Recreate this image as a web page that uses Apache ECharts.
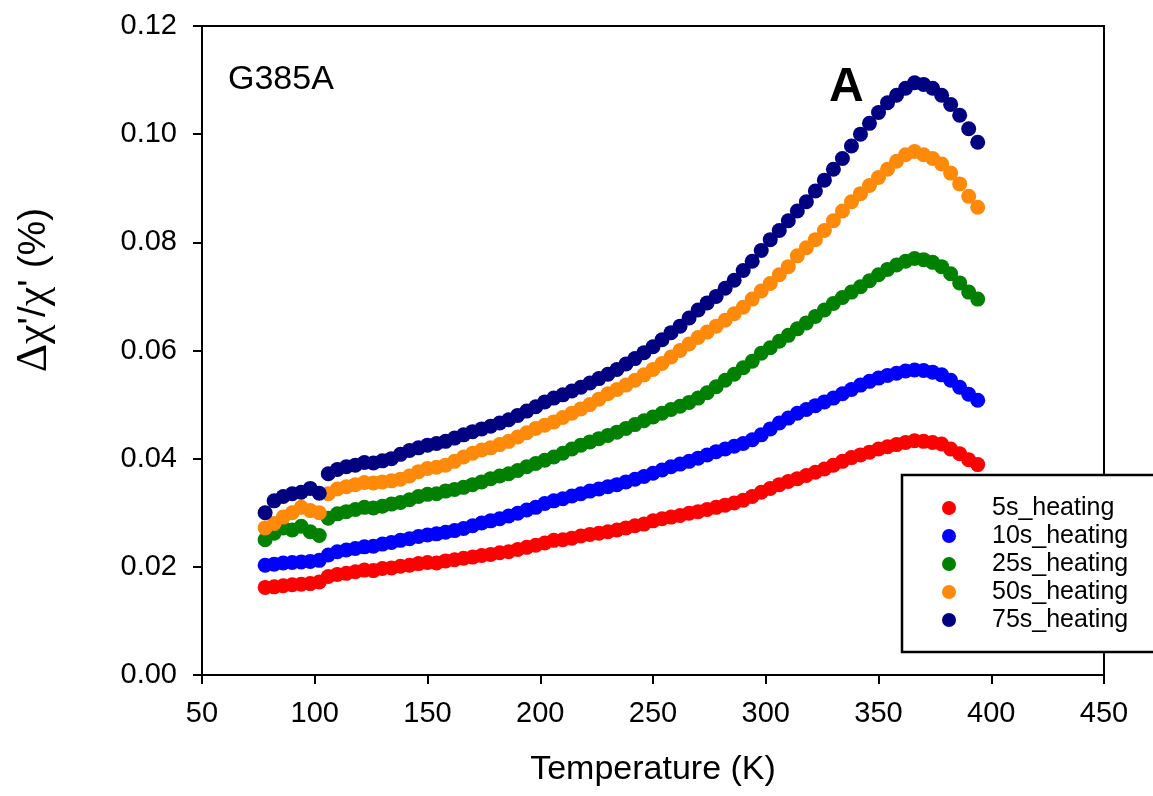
<!DOCTYPE html>
<html>
<head>
<meta charset="utf-8">
<script src="https://cdn.jsdelivr.net/npm/echarts@6/dist/echarts.min.js"></script>
<style>html,body{margin:0;padding:0;background:#fff}#c{width:1153px;height:796px}</style>
</head>
<body>
<div id="c"></div>
<script>
const temps = [78,82,86,90,94,98,102,106,110,114,
  118,122,126,130,134,138,142,146,150,154,
  158,162,166,170,174,178,182,186,190,194,
  198,202,206,210,214,218,222,226,230,234,
  238,242,246,250,254,258,262,266,270,274,
  278,282,286,290,294,298,302,306,310,314,
  318,322,326,330,334,338,342,346,350,354,
  358,362,366,370,374,378,382,386,390,394];

const s5 = [.0162,.0163,.0165,.0167,.0168,.0169,.0172,.0182,.0186,.0188,
  .0191,.0194,.0193,.0197,.0198,.0201,.0203,.0206,.0208,.0207,
  .0211,.0213,.0216,.0218,.0221,.0223,.0226,.0228,.0232,.0236,
  .0240,.0244,.0249,.0250,.0253,.0257,.0260,.0262,.0265,.0268,
  .0272,.0276,.0279,.0285,.0289,.0292,.0295,.0299,.0302,.0306,
  .0310,.0314,.0318,.0323,.0330,.0338,.0345,.0352,.0358,.0363,
  .0369,.0375,.0381,.0388,.0395,.0402,.0407,.0412,.0418,.0422,
  .0426,.0430,.0433,.0432,.0430,.0427,.0418,.0409,.0398,.0389];

const s10 = [.0203,.0205,.0207,.0208,.0209,.0210,.0212,.0222,.0228,.0231,
  .0234,.0237,.0238,.0242,.0245,.0249,.0252,.0256,.0259,.0261,
  .0264,.0267,.0271,.0276,.0281,.0285,.0289,.0294,.0299,.0305,
  .0310,.0317,.0322,.0326,.0331,.0335,.0340,.0344,.0348,.0352,
  .0357,.0362,.0367,.0373,.0379,.0385,.0390,.0395,.0401,.0407,
  .0413,.0418,.0423,.0428,.0435,.0444,.0455,.0466,.0475,.0484,
  .0491,.0498,.0505,.0512,.0520,.0528,.0536,.0543,.0549,.0554,
  .0558,.0562,.0564,.0563,.0560,.0555,.0545,.0532,.0519,.0508];

const s25 = [.0250,.0262,.0272,.0268,.0275,.0265,.0258,.0290,.0298,.0302,
  .0306,.0310,.0309,.0312,.0316,.0319,.0324,.0330,.0334,.0335,
  .0340,.0343,.0347,.0352,.0357,.0363,.0368,.0372,.0378,.0385,
  .0391,.0397,.0403,.0410,.0418,.0425,.0431,.0437,.0443,.0449,
  .0456,.0463,.0470,.0477,.0484,.0491,.0497,.0504,.0512,.0522,
  .0533,.0545,.0556,.0568,.0580,.0595,.0605,.0617,.0628,.0640,
  .0651,.0663,.0675,.0687,.0698,.0708,.0718,.0729,.0740,.0750,
  .0758,.0765,.0770,.0768,.0763,.0755,.0742,.0725,.0708,.0695];

const s50 = [.0272,.0280,.0292,.0300,.0310,.0304,.0300,.0335,.0344,.0348,
  .0352,.0356,.0355,.0357,.0359,.0362,.0368,.0376,.0382,.0384,
  .0388,.0395,.0403,.0410,.0416,.0420,.0426,.0432,.0440,.0448,
  .0456,.0462,.0468,.0476,.0484,.0492,.0500,.0510,.0520,.0528,
  .0536,.0545,.0555,.0565,.0576,.0588,.0600,.0612,.0624,.0634,
  .0645,.0656,.0668,.0680,.0695,.0710,.0724,.0740,.0755,.0775,
  .0790,.0805,.0822,.0840,.0858,.0875,.0890,.0905,.0920,.0935,
  .0950,.0962,.0968,.0962,.0955,.0945,.0928,.0908,.0885,.0865];

const s75 = [.0300,.0322,.0330,.0335,.0338,.0345,.0336,.0372,.0380,.0385,
  .0388,.0393,.0392,.0396,.0400,.0408,.0415,.0420,.0425,.0428,
  .0432,.0438,.0444,.0450,.0455,.0460,.0466,.0472,.0480,.0488,
  .0496,.0505,.0512,.0518,.0525,.0532,.0540,.0548,.0556,.0565,
  .0575,.0585,.0596,.0607,.0620,.0633,.0645,.0660,.0675,.0688,
  .0700,.0715,.0730,.0748,.0765,.0785,.0805,.0822,.0840,.0858,
  .0875,.0895,.0915,.0935,.0955,.0978,.1000,.1020,.1040,.1058,
  .1072,.1085,.1095,.1092,.1085,.1072,.1055,.1035,.1010,.0985];

const seriesNames = ['5s_heating','10s_heating','25s_heating','50s_heating','75s_heating'];
const seriesColors = ['#ff0000','#0000ff','#008000','#ff8a0a','#000080'];
const seriesValues = [s5, s10, s25, s50, s75];

const xTicks = {min: 50, max: 450, interval: 50};
const yTicks = {min: 0, max: 0.12, interval: 0.02};

const FONT = '"Liberation Sans", Arial, sans-serif';
const chart = echarts.init(document.getElementById('c'), null, {renderer: 'canvas'});

const option = {
  animation: false,
  backgroundColor: '#fff',
  grid: {left: 202, right: 49, top: 26, bottom: 121, show: true, borderColor: '#000', borderWidth: 2, backgroundColor: 'transparent'},
  xAxis: {
    type: 'value', min: xTicks.min, max: xTicks.max, interval: xTicks.interval,
    name: 'Temperature (K)', nameLocation: 'middle', nameGap: 78,
    nameTextStyle: {fontFamily: FONT, fontSize: 34, color: '#000'},
    axisLine: {show: true, onZero: false, lineStyle: {color: '#000', width: 2}},
    axisTick: {show: true, inside: false, length: 9, lineStyle: {color: '#000', width: 2}},
    axisLabel: {fontFamily: FONT, fontSize: 29, color: '#000', margin: 24},
    splitLine: {show: false}
  },
  yAxis: {
    type: 'value', min: yTicks.min, max: yTicks.max, interval: yTicks.interval,
    axisLine: {show: true, onZero: false, lineStyle: {color: '#000', width: 2}},
    axisTick: {show: true, inside: false, length: 9, lineStyle: {color: '#000', width: 2}},
    axisLabel: {fontFamily: FONT, fontSize: 29, color: '#000', margin: 25, formatter: v => v.toFixed(2)},
    splitLine: {show: false}
  },
  legend: {
    orient: 'vertical', left: 902, top: 475,
    padding: [19, 40, 18, 40],
    backgroundColor: '#fff', borderColor: '#000', borderWidth: 2.5,
    itemWidth: 14, itemHeight: 14, itemGap: 0, icon: 'circle',
    textStyle: {fontFamily: FONT, fontSize: 25, color: '#000', lineHeight: 28, padding: [0, 0, 0, 31]},
    data: seriesNames,
    z: 10
  },
  graphic: [
    {type: 'text', left: 228, top: 63, z: 20,
      style: {text: 'G385A', fontFamily: FONT, fontSize: 34, fill: '#000'}},
    {type: 'text', left: 829, top: 64, z: 20,
      style: {text: 'A', fontFamily: FONT, fontSize: 48, fontWeight: 'bold', fill: '#000'}},
    {type: 'text', x: 34, y: 290, rotation: Math.PI / 2, z: 20,
      style: {
        text: '{g|Δχ}{a|\'/}{g|χ}{a|\' (%)}',
        align: 'center', verticalAlign: 'middle',
        rich: {
          g: {fontFamily: '"Liberation Serif", serif', fontSize: 44, fill: '#000'},
          a: {fontFamily: FONT, fontSize: 39, fill: '#000'}
        }
      }}
  ],
  series: seriesNames.map((name, k) => ({
    name: name,
    type: 'scatter',
    symbol: 'circle',
    symbolSize: 15,
    itemStyle: {color: seriesColors[k], opacity: 1},
    data: temps.map((t, i) => [t, seriesValues[k][i]]),
    z: 2 + k
  }))
};
chart.setOption(option);
</script>
</body>
</html>
